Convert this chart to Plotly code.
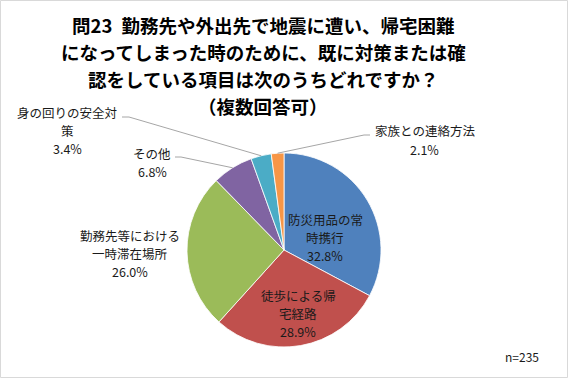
import math
import plotly.graph_objects as go

# ---- data ----
categories = ["防災用品の常時携行", "徒歩による帰宅経路", "勤務先等における一時滞在場所",
              "その他", "身の回りの安全対策", "家族との連絡方法"]
values = [32.8, 28.9, 26.0, 6.8, 3.4, 2.1]
title_lines = ["問23\u2002勤務先や外出先で地震に遭い、帰宅困難",
               "になってしまった時のために、既に対策または確",
               "認をしている項目は次のうちどれですか？",
               "（複数回答可）"]
note = "n=235"

# ---- style ----
W, H = 568, 378
colors = ["#4F81BD", "#C0504D", "#9BBB59", "#8064A2", "#4BACC6", "#F79646"]
FONT = "Noto Sans CJK JP"
CX, CY, R = 284, 250, 97
wrap = [6, 6, 8, 0, 8, 0]
# label block centre x and first-line centre y (pixels)
label_pos = [(325, 219), (298, 295), (130, 235), (152, 153), (67, 112), (425, 131)]
# leader anchor points (pixels) for outside labels, None for inside
leader_start = [None, None, None, (175, 157), (122, 117), (370, 135)]
leader_dx = [0, 0, 0, 6, 7, -6]
LABEL_SIZE = 12.5
LINE_H = 18.2


def px(x):
    return x / W


def py(y):
    return 1 - y / H


fig = go.Figure()
fig.add_trace(go.Pie(
    labels=categories, values=values, sort=False, direction="clockwise", rotation=0,
    marker=dict(colors=colors, line=dict(color="rgba(255,255,255,0.8)", width=1)),
    textinfo="none", hoverinfo="label+percent", showlegend=False,
    domain=dict(x=[px(CX - R), px(CX + R)], y=[py(CY + R), py(CY - R)]),
))

annotations = []
shapes = []
total = sum(values)
cum = 0.0
for i, (cat, v) in enumerate(zip(categories, values)):
    mid = (cum + v / 2) / total
    cum += v
    ang = 2 * math.pi * mid
    ex, ey = CX + R * math.sin(ang), CY - R * math.cos(ang)
    if wrap[i]:
        lines = [cat[j:j + wrap[i]] for j in range(0, len(cat), wrap[i])]
    else:
        lines = [cat]
    lines.append(f"{v:.1f}%")
    lx, ly = label_pos[i]
    for k, t in enumerate(lines):
        annotations.append(dict(
            text=t, x=px(lx), y=py(ly + k * LINE_H), xref="paper", yref="paper",
            showarrow=False, xanchor="center", yanchor="middle", borderpad=0,
            font=dict(family=FONT, size=LABEL_SIZE, color="#1a1a1a")))
    if leader_start[i] is not None:
        sx, sy = leader_start[i]
        mx = sx + leader_dx[i]
        shapes.append(dict(
            type="path", xref="paper", yref="paper",
            path=f"M {px(sx)} {py(sy)} L {px(mx)} {py(sy)} L {px(ex)} {py(ey)}",
            line=dict(color="#A6A6A6", width=1)))

title_y = [25, 52, 79, 106]
for t, y in zip(title_lines, title_y):
    annotations.append(dict(
        text=f"<b>{t}</b>", x=px(263), y=py(y), xref="paper", yref="paper",
        showarrow=False, xanchor="center", yanchor="middle", borderpad=0,
        font=dict(family=FONT, size=18.5, color="#000000")))

annotations.append(dict(
    text=note, x=px(522), y=py(356), xref="paper", yref="paper",
    showarrow=False, xanchor="center", yanchor="middle",
    font=dict(family=FONT, size=12, color="#1a1a1a")))

shapes.append(dict(type="rect", xref="paper", yref="paper",
                   x0=px(0.5), x1=px(W - 0.5), y0=py(H - 0.5), y1=py(0.5),
                   line=dict(color="#D9D9D9", width=1)))

fig.update_layout(
    width=W, height=H, autosize=False,
    margin=dict(l=0, r=0, t=0, b=0),
    paper_bgcolor="white", plot_bgcolor="white",
    annotations=annotations, shapes=shapes,
)
fig.write_html("out.html", config={"displayModeBar": False},
               post_script="document.body.style.margin='0';document.body.style.padding='0';")
